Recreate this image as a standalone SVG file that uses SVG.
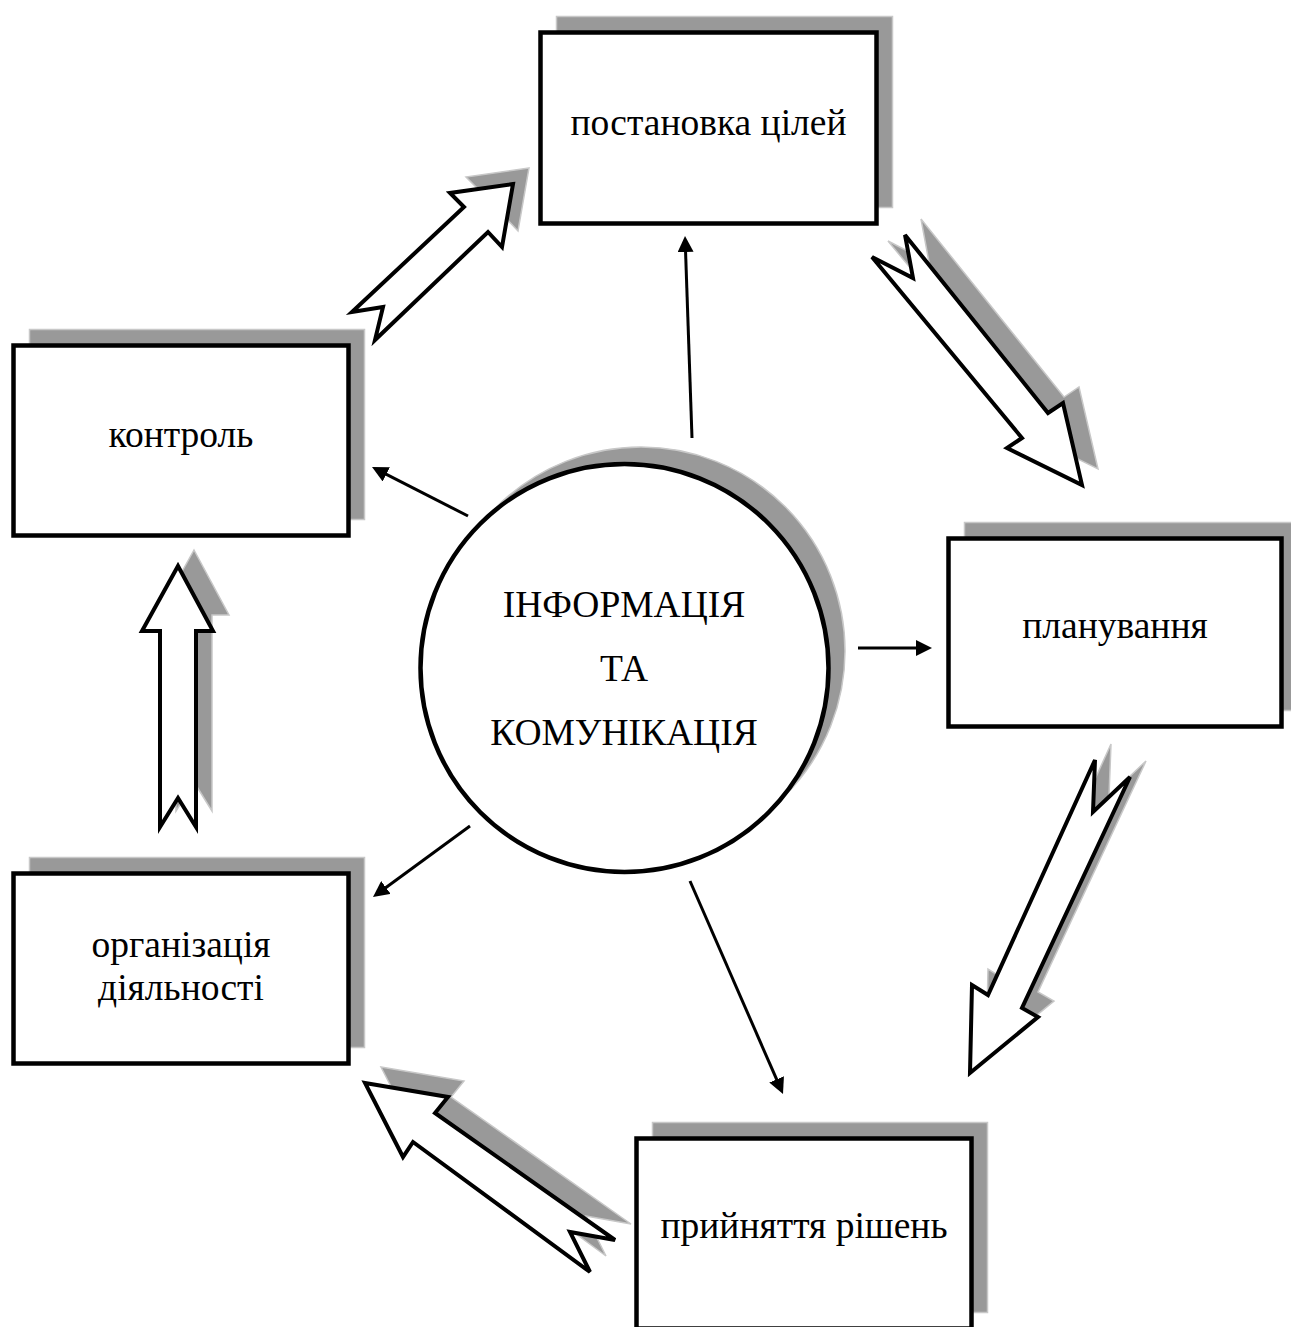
<svg xmlns="http://www.w3.org/2000/svg" width="1291" height="1327" viewBox="0 0 1291 1327">
  <style>
    .shadow { fill: #999999; stroke: #c8c8c8; stroke-width: 1.5; }
    .box { fill: #ffffff; stroke: #000000; stroke-width: 4.5; }
    .block { fill: #ffffff; stroke: #000000; stroke-width: 4; stroke-linejoin: miter; }
    .thin { fill: none; stroke: #000000; stroke-width: 3; marker-end: url(#head); }
    .label { font-family: "Liberation Serif", "Times New Roman", serif; font-size: 37.5px; fill: #000000; text-anchor: middle; }
  </style>
  <defs>
    <marker id="head" markerUnits="userSpaceOnUse" viewBox="0 0 16 16" refX="2" refY="8" markerWidth="16" markerHeight="16" orient="auto">
      <path d="M0,0 L16,8 L0,16 z" fill="#000000"/>
    </marker>
  </defs>
  <rect width="1291" height="1327" fill="#ffffff"/>

  <!-- connectors: block arrows around the cycle and thin arrows from the centre -->
  <g id="connectors">
    <!-- контроль -> постановка цілей -->
    <g id="block-1">
      <polygon class="shadow" transform="translate(16,-16)" points="513,184 450,193 464,207 352,312 383,307 375,340 488,232 502,247"/>
      <polygon class="block" points="513,184 450,193 464,207 352,312 383,307 375,340 488,232 502,247"/>
    </g>
    <!-- постановка цілей -> планування -->
    <g id="block-2">
      <polygon class="shadow" transform="translate(16,-16)" points="872,257 913,278 905,235 1048,413 1063,403 1082,485 1007,448 1022,438"/>
      <polygon class="block" points="872,257 913,278 905,235 1048,413 1063,403 1082,485 1007,448 1022,438"/>
    </g>
    <!-- планування -> прийняття рішень -->
    <g id="block-3">
      <polygon class="shadow" transform="translate(16,-16)" points="1095,760 1093,812 1130,777 1022,1008 1038,1017 970,1073 972,985 988,995"/>
      <polygon class="block" points="1095,760 1093,812 1130,777 1022,1008 1038,1017 970,1073 972,985 988,995"/>
    </g>
    <!-- прийняття рішень -> організація діяльності -->
    <g id="block-4">
      <polygon class="shadow" transform="translate(16,-16)" points="365,1083 448,1097 435,1113 615,1240 570,1232 590,1272 413,1142 403,1157"/>
      <polygon class="block" points="365,1083 448,1097 435,1113 615,1240 570,1232 590,1272 413,1142 403,1157"/>
    </g>
    <!-- організація діяльності -> контроль -->
    <g id="block-5">
      <polygon class="shadow" transform="translate(16,-16)" points="178,566 213,631 196,631 196,827 178,798 160,827 160,631 142,631"/>
      <polygon class="block" points="178,566 213,631 196,631 196,827 178,798 160,827 160,631 142,631"/>
    </g>

    <line class="thin" x1="692" y1="438" x2="685.5" y2="250"/>
    <line class="thin" x1="468" y1="516" x2="384.5" y2="473.4"/>
    <line class="thin" x1="858" y1="648" x2="918" y2="648"/>
    <line class="thin" x1="470" y1="826" x2="384.3" y2="888.7"/>
    <line class="thin" x1="690" y1="881" x2="777.4" y2="1081.2"/>
  </g>

  <g id="node-goals">
    <rect class="shadow" x="556.5" y="16.5" width="336" height="191"/>
    <rect class="box" x="540.5" y="32.5" width="336" height="191"/>
    <text class="label" x="708.5" y="135">постановка цілей</text>
  </g>

  <g id="node-control">
    <rect class="shadow" x="29.5" y="329.5" width="335" height="190"/>
    <rect class="box" x="13.5" y="345.5" width="335" height="190"/>
    <text class="label" x="181" y="447">контроль</text>
  </g>

  <g id="node-planning">
    <rect class="shadow" x="964.5" y="522.5" width="333" height="188"/>
    <rect class="box" x="948.5" y="538.5" width="333" height="188"/>
    <text class="label" x="1115" y="638">планування</text>
  </g>

  <g id="node-organization">
    <rect class="shadow" x="29.5" y="857.5" width="335" height="190"/>
    <rect class="box" x="13.5" y="873.5" width="335" height="190"/>
    <text class="label" x="181" y="957">організація</text>
    <text class="label" x="181" y="1000">діяльності</text>
  </g>

  <g id="node-decisions">
    <rect class="shadow" x="652.5" y="1122.5" width="335" height="190"/>
    <rect class="box" x="636.5" y="1138.5" width="335" height="190"/>
    <text class="label" x="804" y="1238">прийняття рішень</text>
  </g>

  <g id="node-information">
    <circle class="shadow" cx="641" cy="651" r="204"/>
    <circle class="box" cx="624.5" cy="668" r="204" stroke-width="3"/>
    <text class="label" x="624" y="617">ІНФОРМАЦІЯ</text>
    <text class="label" x="624" y="681">ТА</text>
    <text class="label" x="624" y="745">КОМУНІКАЦІЯ</text>
  </g>
</svg>
